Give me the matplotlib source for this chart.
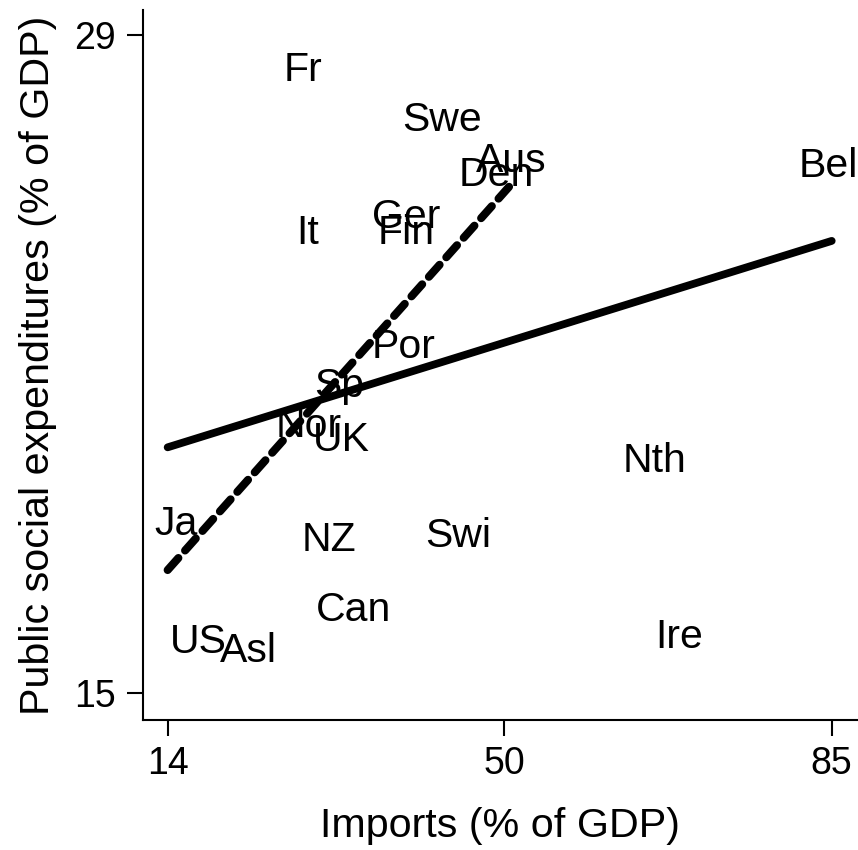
import matplotlib
matplotlib.use("Agg")
import matplotlib.pyplot as plt

plt.rcParams['font.family'] = ['Liberation Sans', 'DejaVu Sans']

# country label positions (imports % GDP, public social expenditures % GDP)
countries = ['Fr', 'Swe', 'Aus', 'Den', 'Bel', 'Ger', 'Fin', 'It', 'Por', 'Sp',
             'Nor', 'UK', 'Nth', 'Ja', 'NZ', 'Swi', 'Can', 'US', 'Asl', 'Ire']
imports = [26.1, 38.8, 46.7, 44.8, 81.2, 35.6, 36.2, 27.5, 35.5, 29.4,
           25.2, 29.2, 62.3, 12.3, 28.0, 41.2, 29.6, 13.9, 19.3, 65.8]
social = [28.34, 27.27, 26.40, 26.09, 26.28, 25.21, 24.87, 24.87, 22.45, 21.62,
          20.77, 20.47, 20.02, 18.68, 18.34, 18.43, 16.85, 16.17, 15.98, 16.28]

# fitted lines (endpoints)
fit_all_x = [14, 85]
fit_all_y = [20.23, 24.62]
fit_sub_x = [14, 50.5]
fit_sub_y = [17.62, 25.77]

xticks = [14, 50, 85]
yticks = [15, 29]

fig = plt.figure(figsize=(8.58, 8.5), dpi=100)
ax = fig.add_axes([0.1663, 0.1529, 0.8325, 0.8353])

ax.plot(fit_all_x, fit_all_y, color='black', lw=5.6, solid_capstyle='round')
ax.plot(fit_sub_x, fit_sub_y, color='black', lw=5.8, dashes=(2.0, 1.25),
        dash_capstyle='round')

for name, x, y in zip(countries, imports, social):
    ax.annotate(name, (x, y), xytext=(2, -10.5), textcoords='offset points',
                ha='left', va='baseline', fontsize=29.5)

ax.set_xlim(11.33, 87.7)
ax.set_ylim(14.43, 29.53)
ax.set_xticks(xticks)
ax.set_yticks(yticks)
ax.tick_params(labelsize=27, length=11.5, width=1.5, pad=7)
ax.tick_params(axis='y', pad=8)

for s in ['top', 'right']:
    ax.spines[s].set_visible(False)
for s in ['left', 'bottom']:
    ax.spines[s].set_linewidth(1.5)

ax.set_xlabel('Imports (% of GDP)', fontsize=29.7, labelpad=18)
ax.set_ylabel('Public social expenditures (% of GDP)', fontsize=29.7, labelpad=12)

fig.savefig('out.png', dpi=100)
